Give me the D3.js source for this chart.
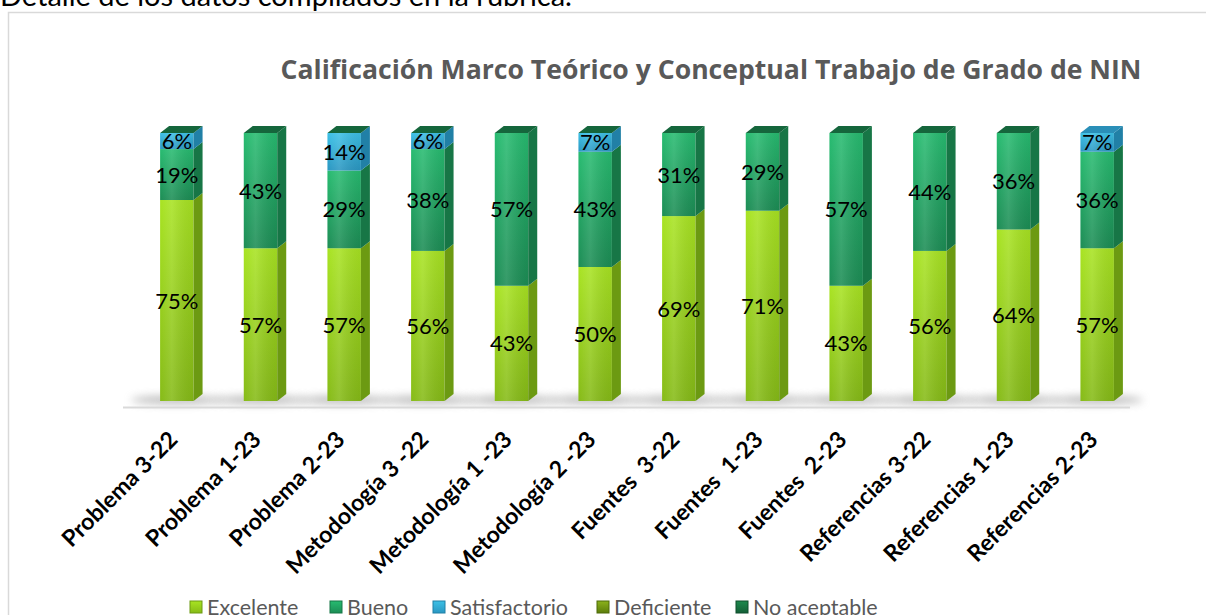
<!DOCTYPE html>
<html>
<head>
<meta charset="utf-8">
<script src="https://cdn.jsdelivr.net/npm/d3@7"></script>
<style>
  body { margin: 0; background: #fff; overflow: hidden; }
  svg { display: block; font-family: Lato, "Open Sans", sans-serif; }
</style>
</head>
<body>
<svg id="chart" width="1206" height="615"></svg>
<script>
// data
const categories = ["Problema 3-22", "Problema 1-23", "Problema 2-23", "Metodología 3 -22",
  "Metodología 1 -23", "Metodología 2 -23", "Fuentes  3-22", "Fuentes  1-23", "Fuentes  2-23",
  "Referencias 3-22", "Referencias 1-23", "Referencias 2-23"];
const excelente     = [75, 57, 57, 56, 43, 50, 69, 71, 43, 56, 64, 57];
const bueno         = [19, 43, 29, 38, 57, 43, 31, 29, 57, 44, 36, 36];
const satisfactorio = [6, 0, 14, 6, 0, 7, 0, 0, 0, 0, 0, 7];
const deficiente    = [0, 0, 0, 0, 0, 0, 0, 0, 0, 0, 0, null];
const noAceptable   = [0, 0, 0, 0, 0, 0, 0, 0, 0, 0, 0, null];
const seriesNames = ["Excelente", "Bueno", "Satisfactorio", "Deficiente", "No aceptable"];
const yTicks = [0, 100];

const palette = {
  "Excelente":     {light: "#a8e322", dark: "#86bb17", side: "#6c9a12", top: "#5e8a0f"},
  "Bueno":         {light: "#27bb70", dark: "#1c8d55", side: "#177646", top: "#13623a"},
  "Satisfactorio": {light: "#3cc0e6", dark: "#2a97c2", side: "#2180a6", top: "#2a8fb8"},
  "Deficiente":    {light: "#8cb21c", dark: "#5c7d0b", side: "#4d6a09", top: "#41590a"},
  "No aceptable":  {light: "#1d8a4e", dark: "#145f37", side: "#0f4e2c", top: "#15663c"}
};

const svg = d3.select("#chart");
const seriesData = [excelente, bueno, satisfactorio, deficiente, noAceptable];

const defs = svg.append("defs");
seriesNames.forEach((name, i) => {
  const g = defs.append("linearGradient").attr("id", "grad" + i)
    .attr("x1", 0).attr("y1", 0).attr("x2", 0).attr("y2", 1);
  g.append("stop").attr("offset", "0%").attr("stop-color", palette[name].light);
  g.append("stop").attr("offset", "100%").attr("stop-color", palette[name].dark);
  const h = defs.append("linearGradient").attr("id", "hgrad" + i)
    .attr("x1", 0).attr("y1", 0).attr("x2", 1).attr("y2", 0);
  h.append("stop").attr("offset", "0%").attr("stop-color", "#fff").attr("stop-opacity", 0.0);
  h.append("stop").attr("offset", "35%").attr("stop-color", "#fff").attr("stop-opacity", 0.12);
  h.append("stop").attr("offset", "100%").attr("stop-color", "#000").attr("stop-opacity", 0.06);
});
defs.append("filter").attr("id", "blur")
  .attr("x", "-50%").attr("y", "-200%").attr("width", "200%").attr("height", "500%")
  .append("feGaussianBlur").attr("stdDeviation", 4);

// page header text (cut off at the top)
svg.append("text").attr("x", 0).attr("y", 6)
  .attr("font-size", 29).attr("fill", "#000")
  .text("Detalle de los datos compilados en la rúbrica.");

// chart frame
svg.append("rect").attr("x", 8.5).attr("y", 12.5).attr("width", 1220).attr("height", 640)
  .attr("fill", "#fff").attr("stroke", "#d9d9d9").attr("stroke-width", 1.5);

// title
svg.append("text").attr("x", 711).attr("y", 79).attr("text-anchor", "middle")
  .attr("font-family", "'Open Sans', Lato, sans-serif")
  .attr("font-size", 26.6).attr("font-weight", "bold").attr("fill", "#595959")
  .text("Calificación Marco Teórico y Conceptual Trabajo de Grado de NIN");

const x = d3.scaleBand().domain(categories).range([135, 1139])
  .paddingInner(0.6).paddingOuter(0.3);
const y = d3.scaleLinear().domain([yTicks[0], yTicks[1]]).range([401, 133]);
const dx = 9, dy = 7;

// floor shadows
svg.append("g").selectAll("ellipse").data(categories).join("ellipse")
  .attr("cx", d => x(d) + x.bandwidth() / 2)
  .attr("cy", y(0) - 1)
  .attr("rx", 46).attr("ry", 4)
  .attr("fill", "#8a8a8a").attr("opacity", 0.6)
  .attr("filter", "url(#blur)");

// axis line
svg.append("line").attr("x1", 123).attr("x2", 1130).attr("y1", 407.5).attr("y2", 407.5)
  .attr("stroke", "#d9d9d9").attr("stroke-width", 2);

// stacked segments
const stackRows = categories.map((c, i) => {
  let acc = 0;
  const segs = [];
  seriesNames.forEach((name, s) => {
    const v = seriesData[s][i];
    if (v === null) return;
    segs.push({cat: c, s, name, v, y0: acc, y1: acc + v});
    acc += v;
  });
  return {cat: c, segs};
});

const bars = svg.append("g").selectAll("g").data(stackRows).join("g");

bars.each(function(row) {
  const g = d3.select(this);
  const x0 = x(row.cat), x1 = x0 + x.bandwidth();
  row.segs.filter(d => d.v > 0).forEach(d => {
    const yt = y(d.y1), yb = y(d.y0);
    g.append("rect").attr("x", x0).attr("y", yt).attr("width", x.bandwidth()).attr("height", yb - yt)
      .attr("fill", `url(#grad${d.s})`);
    g.append("rect").attr("x", x0).attr("y", yt).attr("width", x.bandwidth()).attr("height", yb - yt)
      .attr("fill", `url(#hgrad${d.s})`);
    g.append("path")
      .attr("d", `M${x1},${yt} L${x1 + dx},${yt - dy} L${x1 + dx},${yb - dy} L${x1},${yb} Z`)
      .attr("fill", palette[d.name].side);
  });
  const topSeg = row.segs[row.segs.length - 1];
  const yt = y(topSeg.y1);
  g.append("path")
    .attr("d", `M${x0},${yt} L${x0 + dx},${yt - dy} L${x1 + dx},${yt - dy} L${x1},${yt} Z`)
    .attr("fill", palette[topSeg.name].top);
});

// value labels
const labels = stackRows.flatMap(r => r.segs.filter(d => d.v > 0));
svg.append("g").selectAll("text").data(labels).join("text")
  .attr("x", d => x(d.cat) + x.bandwidth() / 2)
  .attr("y", d => (y(d.y0) + y(d.y1)) / 2 + 8)
  .attr("text-anchor", "middle").attr("font-size", 22).attr("fill", "#000")
  .text(d => d.v + "%");

// category labels
svg.append("g").selectAll("text").data(categories).join("text")
  .attr("transform", d => `translate(${x(d) + x.bandwidth() / 2 + 2},${441}) rotate(-45)`)
  .attr("text-anchor", "end").attr("font-size", 23).attr("font-weight", "bold").attr("fill", "#000")
  .attr("xml:space", "preserve")
  .text(d => d);

// legend
const legendX = [190, 330, 433, 597, 736];
const leg = svg.append("g").selectAll("g").data(seriesNames).join("g")
  .attr("transform", (d, i) => `translate(${legendX[i]},607)`);
leg.append("rect").attr("x", 0).attr("y", -6).attr("width", 12).attr("height", 12)
  .attr("fill", (d, i) => `url(#grad${i})`);
leg.append("rect").attr("x", 0).attr("y", -6).attr("width", 12).attr("height", 12)
  .attr("fill", "none").attr("stroke", (d, i) => palette[d].side).attr("stroke-width", 1);
leg.append("text").attr("x", 17).attr("y", 8).attr("font-size", 21.5).attr("fill", "#595959")
  .text(d => d);
</script>
</body>
</html>
